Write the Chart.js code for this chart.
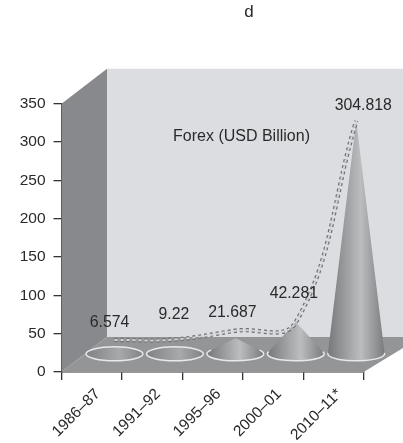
<!DOCTYPE html>
<html>
<head>
<meta charset="utf-8">
<title>Forex</title>
<script src="https://cdn.jsdelivr.net/npm/chart.js@4"></script>
<style>
  html, body { margin: 0; padding: 0; background: #fff; }
  canvas { display: block; }
</style>
</head>
<body>
<canvas id="forex-chart" width="403" height="443"></canvas>
<script>
const categories = ['1986–87', '1991–92', '1995–96', '2000–01', '2010–11*'];
const forexValues = [6.574, 9.22, 21.687, 42.281, 304.818];
const trendValues = [19, 19.5, 31, 42, 304.818];
const yTicks = [0, 50, 100, 150, 200, 250, 300, 350];

// where each value label sits, relative to the tip of its cone
const labelShift = [[-5, -27], [-1, -33], [-3, -25], [-2, -28], [7, -15]];

const DEPTH_X = 45.5;
const DEPTH_Y = 35;
const FONT = '"Liberation Sans", Arial, sans-serif';
const INK = '#2a2a2c';

// left wall, back wall and floor behind the plot
function drawRoom(chart) {
    const { ctx, chartArea: a, width } = chart;
    ctx.save();
    ctx.fillStyle = '#dcdde0';
    ctx.fillRect(a.left + DEPTH_X, a.top - DEPTH_Y, width, a.bottom - a.top);

    ctx.fillStyle = '#88898c';
    ctx.beginPath();
    ctx.moveTo(a.left, a.top);
    ctx.lineTo(a.left + DEPTH_X, a.top - DEPTH_Y);
    ctx.lineTo(a.left + DEPTH_X, a.bottom - DEPTH_Y);
    ctx.lineTo(a.left, a.bottom);
    ctx.closePath();
    ctx.fill();

    ctx.fillStyle = '#949597';
    ctx.beginPath();
    ctx.moveTo(a.left, a.bottom);
    ctx.lineTo(a.left + DEPTH_X, a.bottom - DEPTH_Y);
    ctx.lineTo(width, a.bottom - DEPTH_Y);
    ctx.lineTo(width, a.bottom - 24);
    ctx.lineTo(a.right, a.bottom);
    ctx.closePath();
    ctx.fill();
    ctx.restore();
}

function drawCone(ctx, bar) {
    const cx = bar.x + DEPTH_X / 2;
    const by = bar.base - DEPTH_Y / 2;
    const tip = bar.y - DEPTH_Y / 2;
    const rx = bar.width / 2;
    const ry = 7;
    const h = by - tip;
    const flat = h <= ry;

    const shade = ctx.createLinearGradient(cx - rx, 0, cx + rx, 0);
    shade.addColorStop(0, flat ? '#808184' : '#77787b');
    shade.addColorStop(0.58, flat ? '#a8a9ab' : '#bcbdbf');
    shade.addColorStop(1, flat ? '#828386' : '#7a7b7e');
    ctx.fillStyle = shade;
    ctx.strokeStyle = '#e9e9ea';
    ctx.lineWidth = 1.5;

    if (flat) {
        // too short to rise out of its own base
        ctx.beginPath();
        ctx.ellipse(cx, by, rx, ry, 0, 0, Math.PI * 2);
        ctx.fill();
        ctx.stroke();
        return;
    }

    // silhouette runs from the tip to the tangent points on the base
    const back = Math.asin(ry / h);
    ctx.beginPath();
    ctx.moveTo(cx, tip);
    ctx.ellipse(cx, by, rx, ry, 0, -back, Math.PI + back);
    ctx.closePath();
    ctx.fill();

    ctx.beginPath();
    ctx.ellipse(cx, by, rx, ry, 0, -back - 0.1, Math.PI + back + 0.1);
    ctx.stroke();
}

const roomPlugin = {
    id: 'room',
    beforeDatasetsDraw(chart) {
        drawRoom(chart);
        chart.getDatasetMeta(0).data.forEach(el => {
            drawCone(chart.ctx, el.getProps(['x', 'y', 'base', 'width'], true));
        });
    },
    // the trend line runs along the same mid-depth plane as the cones
    beforeDatasetDraw(chart, args) {
        if (args.index === 0) return;
        chart.ctx.save();
        chart.ctx.translate(DEPTH_X / 2, -DEPTH_Y / 2);
    },
    afterDatasetDraw(chart, args) {
        if (args.index === 0) return;
        chart.ctx.restore();
    },
    afterDraw(chart) {
        const { ctx, chartArea: a } = chart;
        ctx.save();
        ctx.fillStyle = INK;
        ctx.textBaseline = 'middle';
        ctx.textAlign = 'center';
        ctx.font = '15.8px ' + FONT;
        chart.getDatasetMeta(0).data.forEach((el, i) => {
            const p = el.getProps(['x', 'y'], true);
            ctx.fillText(String(forexValues[i]),
                p.x + DEPTH_X / 2 + labelShift[i][0],
                p.y - DEPTH_Y / 2 + labelShift[i][1]);
        });
        ctx.font = '16px ' + FONT;
        ctx.fillText('Forex (USD Billion)', a.left + 180, a.top + 33);
        ctx.font = '17px ' + FONT;
        ctx.fillText('d', 249, 12);
        ctx.restore();
    }
};

new Chart(document.getElementById('forex-chart'), {
    type: 'bar',
    data: {
        labels: categories,
        datasets: [
            {
                data: forexValues,
                backgroundColor: 'transparent',
                barPercentage: 1,
                categoryPercentage: 0.94,
                order: 3
            },
            {
                type: 'line',
                data: trendValues,
                borderColor: '#6f7073',
                borderWidth: 4.4,
                borderDash: [3, 3],
                pointRadius: 0,
                tension: 0.4,
                clip: false,
                order: 2
            },
            {
                type: 'line',
                data: trendValues,
                borderColor: '#d4d5d8',
                borderWidth: 2,
                borderDash: [3, 3],
                pointRadius: 0,
                tension: 0.4,
                clip: false,
                order: 1
            }
        ]
    },
    options: {
        responsive: false,
        animation: false,
        layout: { padding: { top: 103.7, right: 39.3, bottom: 0, left: 0 } },
        plugins: { legend: { display: false }, tooltip: { enabled: false } },
        scales: {
            x: {
                afterFit(scale) { scale.height = 71; },
                border: { color: '#333335', width: 1.5 },
                grid: { drawOnChartArea: false, color: '#333335', lineWidth: 1.3, tickLength: 8 },
                ticks: { color: INK, font: { family: FONT, size: 15.5 }, minRotation: 45, maxRotation: 45, autoSkip: false, padding: 5, labelOffset: 6 }
            },
            y: {
                min: 0,
                max: 350,
                afterFit(scale) { scale.width = 61.5; },
                afterBuildTicks(scale) { scale.ticks = yTicks.map(value => ({ value })); },
                border: { color: '#333335', width: 1.5 },
                grid: { drawOnChartArea: false, color: '#333335', lineWidth: 1.3, tickLength: 8 },
                ticks: { color: INK, font: { family: FONT, size: 15.5 }, padding: 8 }
            }
        }
    },
    plugins: [roomPlugin]
});
</script>
</body>
</html>
